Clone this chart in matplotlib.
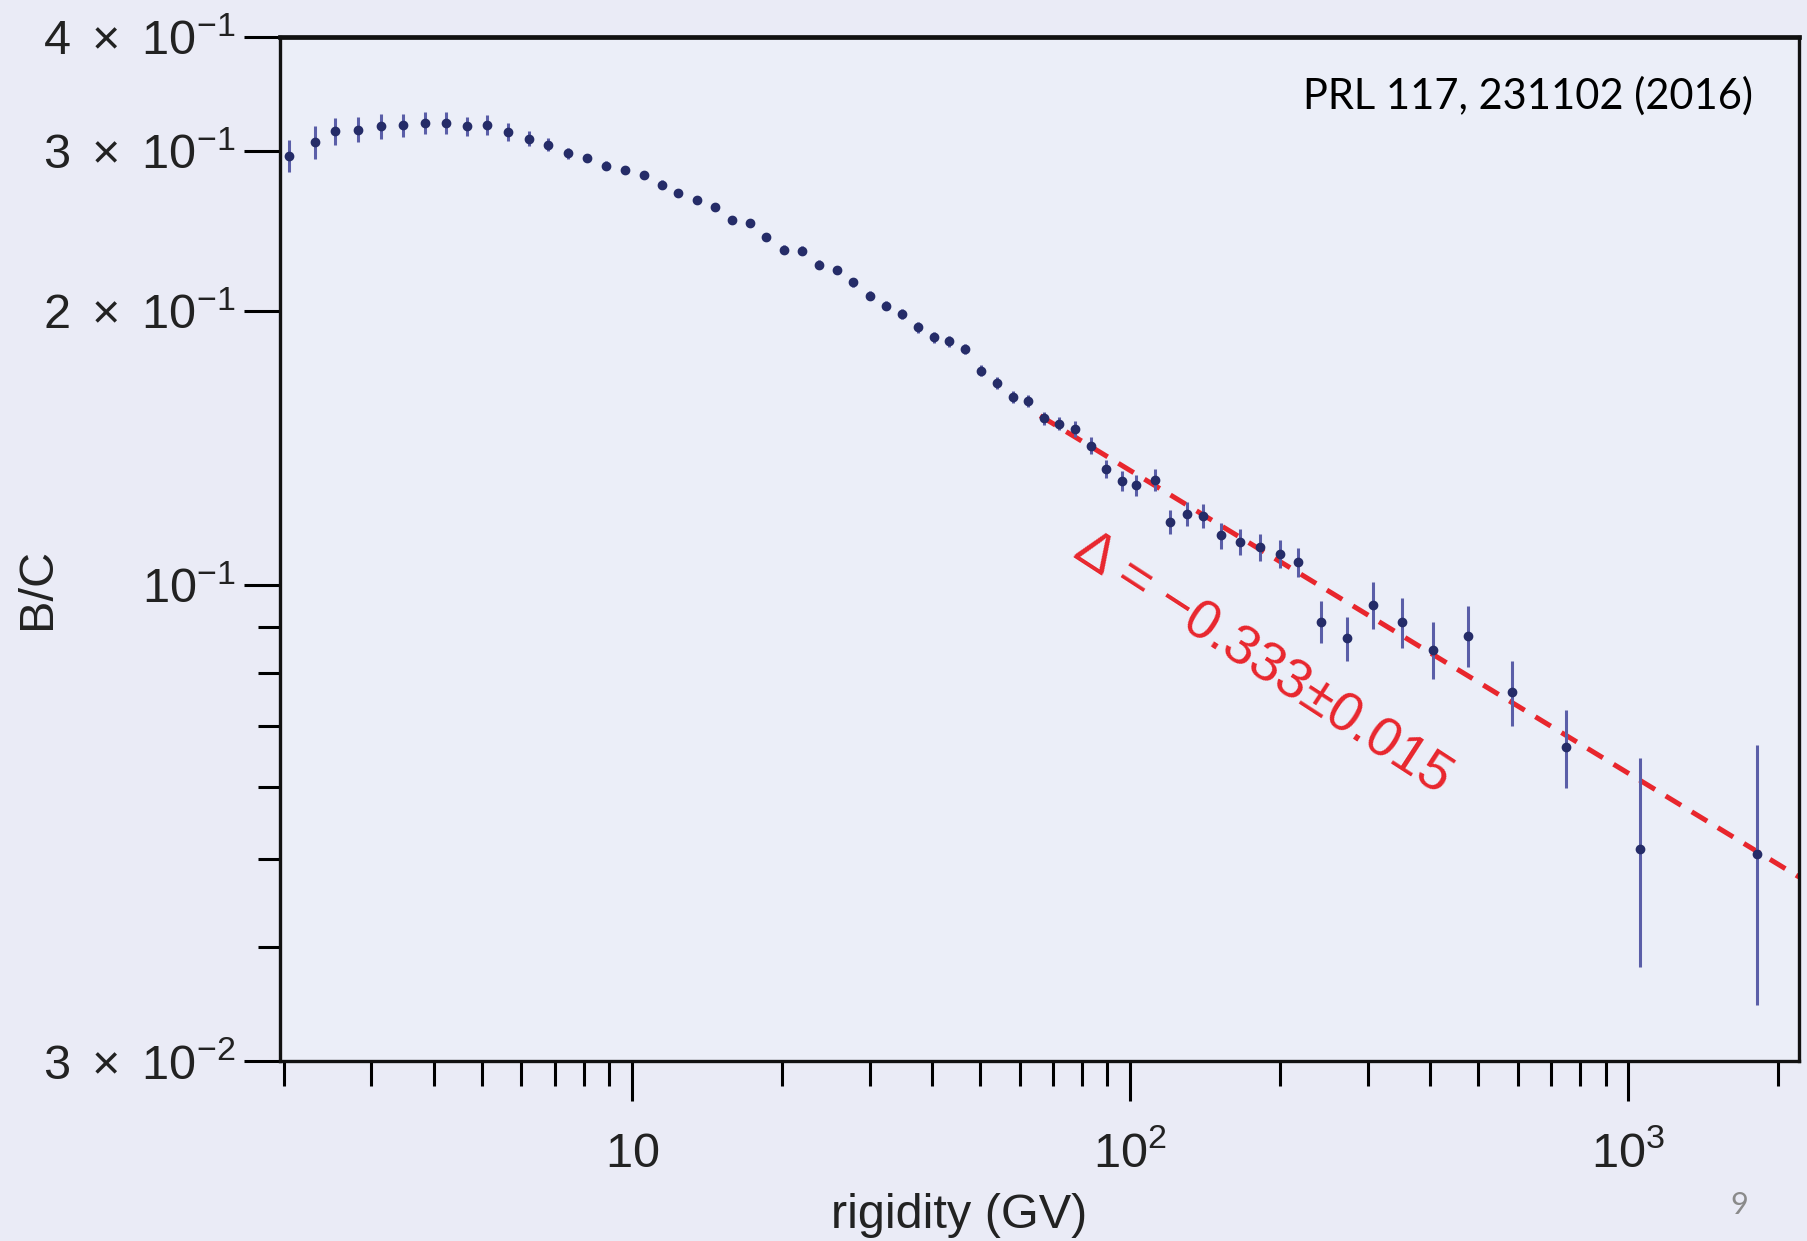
import matplotlib
matplotlib.use("Agg")
import matplotlib.pyplot as plt
from matplotlib.ticker import NullFormatter

# B/C ratio vs rigidity
rigidity = [2.05, 2.31, 2.54, 2.82, 3.14, 3.48, 3.85, 4.24, 4.66, 5.13,
            5.65, 6.21, 6.78, 7.43, 8.13, 8.88, 9.67, 10.6, 11.5, 12.4,
            13.5, 14.7, 15.9, 17.3, 18.6, 20.2, 22.0, 23.8, 25.8, 27.8,
            30.0, 32.3, 34.8, 37.5, 40.5, 43.4, 46.7, 50.2, 54.1, 58.2,
            62.5, 67.3, 72.0, 77.7, 83.4, 89.4, 96.5, 103, 112, 120,
            130, 140, 152, 166, 182, 200, 217, 242, 273, 307,
            351, 406, 477, 584, 751, 1054, 1809]

bc_ratio = [0.2965, 0.3067, 0.3154, 0.3165, 0.3192, 0.3200, 0.3218, 0.3218, 0.3192, 0.3206,
            0.3146, 0.3094, 0.3047, 0.2983, 0.2948, 0.2891, 0.2860, 0.2824, 0.2754, 0.2697,
            0.2651, 0.2602, 0.2520, 0.2498, 0.2411, 0.2337, 0.2331, 0.2250, 0.2220, 0.2152,
            0.2081, 0.2029, 0.1987, 0.1920, 0.1872, 0.1853, 0.1818, 0.1721, 0.1667, 0.1609,
            0.1593, 0.1526, 0.1504, 0.1485, 0.1423, 0.1342, 0.1303, 0.1287, 0.1305, 0.1173,
            0.1198, 0.1192, 0.1134, 0.1115, 0.1101, 0.1082, 0.1060, 0.0912, 0.0874, 0.0952,
            0.0911, 0.0849, 0.0880, 0.0763, 0.0664, 0.0513, 0.0507]

bc_err = [0.012, 0.013, 0.011, 0.010, 0.010, 0.009, 0.009, 0.009, 0.008, 0.008,
          0.007, 0.006, 0.005, 0.004, 0.003, 0.003, 0.003, 0.003, 0.003, 0.003,
          0.0025, 0.0025, 0.0025, 0.0025, 0.0025, 0.0025, 0.0025, 0.0025, 0.0025, 0.0025,
          0.0025, 0.0025, 0.0025, 0.0025, 0.0025, 0.0025, 0.0025, 0.0025, 0.0025, 0.0025,
          0.0025, 0.0025, 0.0025, 0.003, 0.003, 0.003, 0.0033, 0.0033, 0.0035, 0.0036,
          0.0037, 0.0037, 0.0037, 0.0037, 0.0038, 0.0038, 0.0040, 0.0048, 0.0048, 0.0056,
          0.0058, 0.0061, 0.0068, 0.0063, 0.0065, 0.0132, 0.0161]

# power-law fit, slope -0.333 (straight line on log-log, two end points)
fit_x = [66, 2200]
fit_y = [0.1535, 0.0478]
fit_label = "\u0394 = \u22120.333\u00b10.015"

x_major = [10, 100, 1000]
x_major_labels = [r"$10$", r"$10^2$", r"$10^3$"]
x_minor = [2, 3, 4, 5, 6, 7, 8, 9, 20, 30, 40, 50, 60, 70, 80, 90,
           200, 300, 400, 500, 600, 700, 800, 900, 2000]
y_major = [0.03, 0.1, 0.2, 0.3, 0.4]
y_major_labels = [r"$3\ \times\ 10^{-2}$", r"$10^{-1}$", r"$2\ \times\ 10^{-1}$",
                  r"$3\ \times\ 10^{-1}$", r"$4\ \times\ 10^{-1}$"]
y_minor = [0.04, 0.05, 0.06, 0.07, 0.08, 0.09]

bg_fig = "#eaebf6"
bg_ax = "#ebeef8"
marker_col = "#252c68"
bar_col = "#5a5ea8"
red = "#e8262d"

plt.rcParams["font.family"] = ["Liberation Sans", "DejaVu Sans"]
plt.rcParams["mathtext.fontset"] = "custom"
plt.rcParams["mathtext.rm"] = "Liberation Sans"
plt.rcParams["mathtext.it"] = "Liberation Sans:italic"
plt.rcParams["mathtext.bf"] = "Liberation Sans:bold"

fig = plt.figure(figsize=(18.08, 12.41), dpi=100, facecolor=bg_fig)
ax = fig.add_axes([0.155, 0.145, 0.840, 0.825], facecolor=bg_ax)
ax.set_xscale("log")
ax.set_yscale("log")

ax.plot(fit_x, fit_y, color=red, lw=3.6, ls=(0, (3.6, 2.5)), zorder=2)
ax.errorbar(rigidity, bc_ratio, yerr=bc_err, fmt="o", ms=6,
            color=marker_col, ecolor=bar_col, elinewidth=2.2, capsize=0, zorder=3)

ax.set_xlim(1.97, 2200)
ax.set_ylim(0.03, 0.4)

ax.set_xticks(x_major, x_major_labels)
ax.set_xticks(x_minor, minor=True)
ax.set_yticks(y_major, y_major_labels)
ax.set_yticks(y_minor, minor=True)
ax.xaxis.set_minor_formatter(NullFormatter())
ax.yaxis.set_minor_formatter(NullFormatter())

ax.tick_params(axis="x", which="major", direction="out", length=29, width=2.2,
               labelsize=35, pad=47, colors="black")
ax.tick_params(axis="x", which="minor", direction="out", length=18, width=2.2)
ax.tick_params(axis="y", which="major", direction="out", length=26, width=2.2,
               labelsize=35, pad=6)
ax.tick_params(axis="y", which="minor", direction="out", length=16, width=2.2)
for lab in ax.get_xticklabels():
    lab.set_verticalalignment("baseline")
for lab in ax.get_xticklabels() + ax.get_yticklabels():
    lab.set_color("#222222")

for side in ["left", "right", "bottom", "top"]:
    ax.spines[side].set_linewidth(2.4)
    ax.spines[side].set_color("#111111")
ax.spines["top"].set_linewidth(3.4)

ax.set_xlabel("rigidity (GV)", fontsize=35, color="#222222")
ax.xaxis.set_label_coords(0.447, -0.129)
ax.set_ylabel("B/C", fontsize=35, color="#222222")
ax.yaxis.set_label_coords(-0.145, 0.462)

ax.text(184, 0.082, fit_label, rotation=-33, rotation_mode="anchor",
        ha="center", va="center", color=red, fontsize=40)

ax.text(0.9697, 0.9424, "PRL 117, 231102 (2016)", transform=ax.transAxes,
        ha="right", va="center", fontsize=30, family="Lato", color="black")
fig.text(0.9618, 0.029, "9", ha="center", va="center", fontsize=22,
         family="Lato", color="#8a8a8a")

fig.savefig("out.png", dpi=100, facecolor=bg_fig)
